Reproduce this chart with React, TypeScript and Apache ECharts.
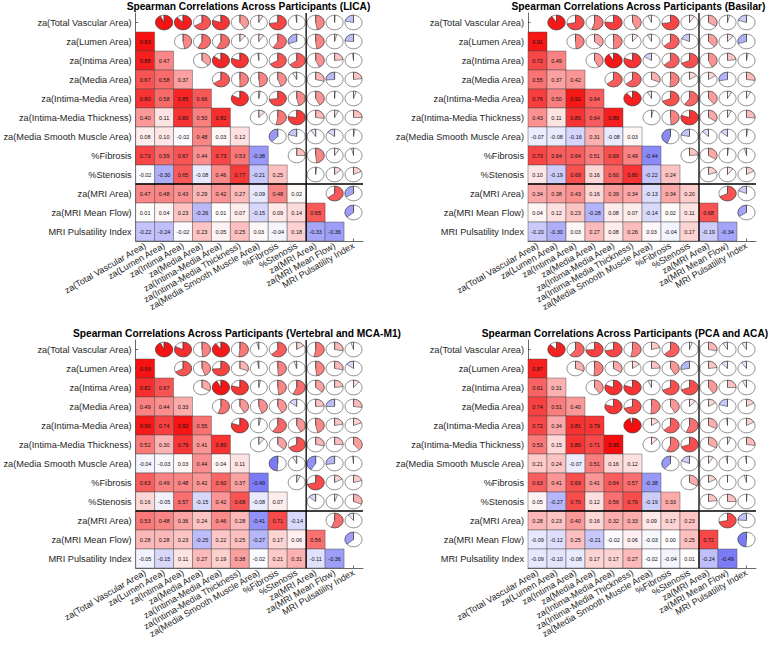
import React, { useEffect, useRef } from "react";
import * as echarts from "echarts";

const variables = [
  "za(Total Vascular Area)",
  "za(Lumen Area)",
  "za(Intima Area)",
  "za(Media Area)",
  "za(Intima-Media Area)",
  "za(Intima-Media Thickness)",
  "za(Media Smooth Muscle Area)",
  "%Fibrosis",
  "%Stenosis",
  "za(MRI Area)",
  "za(MRI Mean Flow)",
  "MRI Pulsatility Index",
];

const panelTitles = [
  "Spearman Correlations Across Participants (LICA)",
  "Spearman Correlations Across Participants (Basilar)",
  "Spearman Correlations Across Participants (Vertebral and MCA-M1)",
  "Spearman Correlations Across Participants (PCA and ACA)",
];

// lower-triangle rows: row i holds correlations with columns 0..i-1
const licaLower = [
  [],
  [0.93],
  [0.88, 0.47],
  [0.67, 0.58, 0.37],
  [0.8, 0.58, 0.85, 0.66],
  [0.4, 0.11, 0.8, 0.5, 0.82],
  [0.08, 0.1, -0.02, 0.48, 0.03, 0.12],
  [0.73, 0.59, 0.67, 0.44, 0.73, 0.53, -0.38],
  [-0.02, -0.3, 0.65, -0.08, 0.46, 0.77, -0.21, 0.25],
  [0.47, 0.48, 0.43, 0.29, 0.42, 0.27, -0.09, 0.48, 0.02],
  [0.01, 0.04, 0.23, -0.26, 0.01, 0.07, -0.15, 0.09, 0.14, 0.65],
  [-0.22, -0.24, -0.02, 0.23, 0.05, 0.25, 0.03, -0.04, 0.18, -0.33, -0.36],
];

const basilarLower = [
  [],
  [0.91],
  [0.72, 0.49],
  [0.55, 0.37, 0.42],
  [0.76, 0.5, 0.91, 0.64],
  [0.43, 0.11, 0.8, 0.64, 0.88],
  [-0.07, -0.08, -0.16, 0.31, -0.08, 0.03],
  [0.73, 0.64, 0.64, 0.51, 0.69, 0.49, -0.44],
  [0.1, -0.19, 0.69, 0.16, 0.6, 0.8, -0.22, 0.24],
  [0.34, 0.38, 0.43, 0.16, 0.39, 0.34, -0.13, 0.34, 0.2],
  [0.04, 0.12, 0.23, -0.28, 0.08, 0.07, -0.14, 0.02, 0.11, 0.68],
  [-0.2, -0.3, 0.03, 0.27, 0.08, 0.26, 0.03, -0.04, 0.17, -0.19, -0.34],
];

const vertebralLower = [
  [],
  [0.93],
  [0.82, 0.67],
  [0.49, 0.44, 0.33],
  [0.9, 0.74, 0.92, 0.55],
  [0.52, 0.3, 0.79, 0.41, 0.8],
  [-0.04, -0.03, 0.03, 0.44, 0.04, 0.11],
  [0.63, 0.49, 0.48, 0.42, 0.6, 0.37, -0.49],
  [0.16, -0.05, 0.57, -0.15, 0.42, 0.68, -0.08, 0.07],
  [0.53, 0.48, 0.36, 0.24, 0.46, 0.28, -0.41, 0.71, -0.14],
  [0.28, 0.28, 0.23, -0.25, 0.22, 0.25, -0.27, 0.17, 0.06, 0.56],
  [-0.05, -0.15, 0.11, 0.27, 0.19, 0.38, -0.02, 0.21, 0.31, -0.11, -0.36],
];

const pcaAcaLower = [
  [],
  [0.87],
  [0.61, 0.31],
  [0.74, 0.51, 0.4],
  [0.72, 0.34, 0.81, 0.79],
  [0.53, 0.15, 0.8, 0.71, 0.95],
  [0.21, 0.24, -0.07, 0.51, 0.16, 0.12],
  [0.63, 0.41, 0.69, 0.41, 0.64, 0.57, -0.38],
  [0.05, -0.27, 0.7, 0.12, 0.56, 0.7, -0.19, 0.33],
  [0.28, 0.23, 0.4, 0.16, 0.32, 0.33, 0.09, 0.17, 0.23],
  [-0.09, -0.12, 0.25, -0.21, -0.02, 0.06, -0.03, 0.0, 0.25, 0.72],
  [-0.09, -0.1, -0.08, 0.17, 0.17, 0.27, -0.02, -0.04, 0.01, -0.24, -0.49],
];

const panelData = [licaLower, basilarLower, vertebralLower, pcaAcaLower];

// index of the last histology variable (separator drawn after it)
const groupSplitIndex = 8;

const FONT = "Arial";
const TEXT_COLOR = "#262626";

function mix(a: number, b: number, t: number) {
  return Math.round(a + (b - a) * t);
}

function corrColor(r: number): string {
  const t = Math.min(1, Math.abs(r));
  if (r >= 0) {
    return `rgb(${mix(255, 245, t)},${mix(255, 0, t)},${mix(255, 0, t)})`;
  }
  const tb = Math.min(1, t * 1.25);
  return `rgb(${mix(255, 40, tb)},${mix(255, 40, tb)},${mix(255, 240, tb)})`;
}

const gridLayout = [
  { left: 135, top: 13, titleX: 248.5 },
  { left: 528, top: 13, titleX: 638.5 },
  { left: 135, top: 340, titleX: 237 },
  { left: 528, top: 340, titleX: 625 },
];
const GRID_SIZE = 228;
const N = variables.length;

function buildOption() {
  const grids: any[] = [];
  const xAxes: any[] = [];
  const yAxes: any[] = [];
  const series: any[] = [];
  const graphics: any[] = [];

  panelData.forEach((lower, p) => {
    const g = gridLayout[p];
    grids.push({
      left: g.left,
      top: g.top,
      width: GRID_SIZE,
      height: GRID_SIZE,
      containLabel: false,
    });
    const axisLine = { show: true, lineStyle: { color: "#444", width: 0.8 } };
    const axisTick = { show: true, inside: true, length: 2.5, alignWithLabel: true, lineStyle: { color: "#444", width: 0.8 } };
    xAxes.push({
      type: "category",
      gridIndex: p,
      data: variables,
      axisLine,
      axisTick,
      axisLabel: {
        interval: 0,
        rotate: 30,
        margin: 4,
        fontSize: 9,
        fontFamily: FONT,
        color: TEXT_COLOR,
      },
      splitLine: { show: false },
    });
    yAxes.push({
      type: "category",
      gridIndex: p,
      inverse: true,
      data: variables,
      axisLine,
      axisTick,
      axisLabel: {
        interval: 0,
        margin: 4,
        fontSize: 9.2,
        fontFamily: FONT,
        color: TEXT_COLOR,
      },
      splitLine: { show: false },
    });

    const cellData: number[][] = [];
    const pieData: number[][] = [];
    lower.forEach((row, i) => {
      row.forEach((r, j) => {
        cellData.push([j, i, r]);
        pieData.push([i, j, r]);
      });
    });

    series.push({
      type: "custom",
      xAxisIndex: p,
      yAxisIndex: p,
      data: cellData,
      silent: true,
      renderItem: (params: any, api: any) => {
        const x = api.value(0);
        const y = api.value(1);
        const r = api.value(2);
        const c = api.coord([x, y]);
        const s = api.size([1, 1]);
        return {
          type: "group",
          children: [
            {
              type: "rect",
              shape: { x: c[0] - s[0] / 2, y: c[1] - s[1] / 2, width: s[0], height: s[1] },
              style: { fill: corrColor(r), stroke: "rgba(70,70,70,0.55)", lineWidth: 0.8 },
            },
            {
              type: "text",
              x: c[0],
              y: c[1],
              style: {
                text: r.toFixed(2),
                align: "center",
                verticalAlign: "middle",
                fontSize: 5.5,
                fontFamily: FONT,
                fill: "#111",
              },
            },
          ],
        };
      },
    });

    series.push({
      type: "custom",
      xAxisIndex: p,
      yAxisIndex: p,
      data: pieData,
      silent: true,
      renderItem: (params: any, api: any) => {
        const x = api.value(0);
        const y = api.value(1);
        const r = api.value(2);
        const c = api.coord([x, y]);
        const s = api.size([1, 1]);
        const rx = s[0] * 0.45;
        const ry = s[1] * 0.385;
        const sy = ry / rx;
        const top = -Math.PI / 2;
        const span = Math.abs(r) * Math.PI * 2;
        const start = r >= 0 ? top : top - span;
        const end = r >= 0 ? top + span : top;
        return {
          type: "group",
          children: [
            {
              type: "circle",
              x: c[0],
              y: c[1],
              scaleY: sy,
              shape: { cx: 0, cy: 0, r: rx },
              style: { fill: "#fff", stroke: "#3a3a3a", lineWidth: 0.6, strokeNoScale: true },
            },
            {
              type: "sector",
              x: c[0],
              y: c[1],
              scaleY: sy,
              shape: { cx: 0, cy: 0, r0: 0, r: rx, startAngle: start, endAngle: end, clockwise: true },
              style: { fill: corrColor(r), stroke: "#3a3a3a", lineWidth: 0.6, strokeNoScale: true },
            },
            {
              type: "line",
              shape: { x1: c[0], y1: c[1], x2: c[0], y2: c[1] - ry },
              style: { stroke: "#3a3a3a", lineWidth: 0.6 },
            },
          ],
        };
      },
    });

    // separator between histology and MRI variables
    series.push({
      type: "custom",
      xAxisIndex: p,
      yAxisIndex: p,
      data: [[groupSplitIndex, groupSplitIndex]],
      silent: true,
      z: 5,
      renderItem: (params: any, api: any) => {
        const k = api.value(0);
        const a = api.coord([k, k]);
        const b = api.coord([k + 1, k + 1]);
        const first = api.coord([0, 0]);
        const last = api.coord([N - 1, N - 1]);
        const s = api.size([1, 1]);
        const bx = (a[0] + b[0]) / 2;
        const by = (a[1] + b[1]) / 2;
        return {
          type: "group",
          children: [
            {
              type: "line",
              shape: { x1: bx, y1: first[1] - s[1] / 2, x2: bx, y2: last[1] + s[1] / 2 },
              style: { stroke: "#000", lineWidth: 1.3 },
            },
            {
              type: "line",
              shape: { x1: first[0] - s[0] / 2, y1: by, x2: last[0] + s[0] / 2, y2: by },
              style: { stroke: "#000", lineWidth: 1.3 },
            },
          ],
        };
      },
    });

    graphics.push({
      type: "text",
      x: g.titleX,
      y: g.top - 7,
      style: {
        text: panelTitles[p],
        align: "center",
        verticalAlign: "middle",
        fontSize: 10.2,
        fontWeight: "bold",
        fontFamily: FONT,
        fill: "#000",
      },
    });
  });

  return {
    animation: false,
    backgroundColor: "#ffffff",
    textStyle: { fontFamily: FONT },
    grid: grids,
    xAxis: xAxes,
    yAxis: yAxes,
    series,
    graphic: graphics,
  };
}

export default function App() {
  const ref = useRef<HTMLDivElement>(null);
  useEffect(() => {
    if (!ref.current) return;
    const chart = echarts.init(ref.current, undefined, { renderer: "svg" });
    chart.setOption(buildOption() as any);
    return () => chart.dispose();
  }, []);
  return (
    <div
      ref={ref}
      style={{ position: "absolute", left: 0, top: 0, width: 770, height: 647, background: "#fff" }}
    />
  );
}
